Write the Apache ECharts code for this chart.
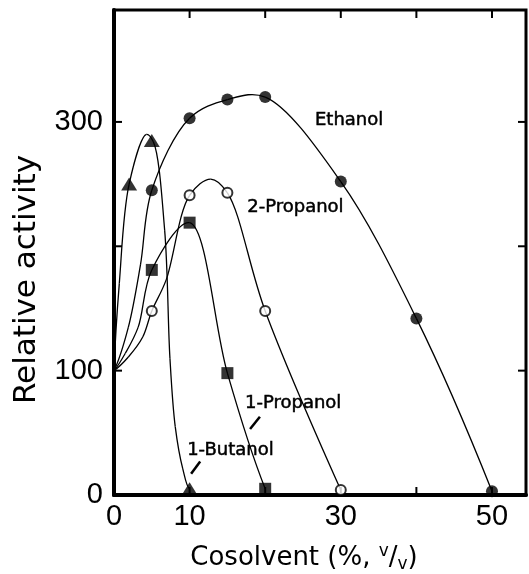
<!DOCTYPE html>
<html>
<head>
<meta charset="utf-8">
<title>Relative activity vs cosolvent</title>
<style>
html, body { margin: 0; padding: 0; background: #fff; }
#chart { width: 529px; height: 574px; }
</style>
</head>
<body>
<div id="chart"></div>
<script src="https://cdn.jsdelivr.net/npm/echarts@6/dist/echarts.min.js"></script>
<script>
// measured points (markers)
var ethanolX = [5, 10, 15, 20, 30, 40, 50];
var ethanolY = [245, 303, 318, 320, 252, 142, 3];
var propanol2X = [5, 10, 15, 20, 30];
var propanol2Y = [148, 241, 243, 148, 4];
var propanol1X = [5, 10, 15, 20];
var propanol1Y = [181, 219, 98, 5];
var butanolX = [2, 5, 10];
var butanolY = [250, 285, 5];

// hand drawn curves (all start at 100 for 0 %)
var ethanolCurve = [[0, 100], [1.9, 135], [3.5, 185], [5, 245], [10, 303], [15, 318], [20, 320], [30, 252], [40, 142], [50, 3]];
var propanol2Curve = [[0, 100], [1.9, 111], [3.8, 127], [5, 148], [6.9, 173], [10, 241], [12.8, 254], [15, 243], [20, 148], [30, 4]];
var propanol1Curve = [[0, 100], [1.5, 114], [3.2, 135], [5, 181], [10, 219], [15, 98], [20, 5]];
var butanolCurve = [[0, 100], [0.7, 170], [2, 250], [4.3, 290], [5.2, 284], [6.7, 213], [7.4, 110], [8.1, 55], [9.1, 21], [10, 5]];

// tick marks and the tick labels that are printed
var xTicks = [10, 20, 30, 40, 50];
var yTicks = [100, 200, 300];
var xTickLabels = [0, 10, 30, 50];
var yTickLabels = [0, 100, 300];

function pairs(xs, ys) {
    return xs.map(function (x, i) { return [x, ys[i]]; });
}

// centripetal catmull-rom segment i of a pixel polyline, as a cubic bezier
function segment(P, i) {
    var n = P.length;
    function at(k) {
        if (k < 0) return [3 * P[0][0] - 3 * P[1][0] + P[2][0], 3 * P[0][1] - 3 * P[1][1] + P[2][1]];
        if (k > n - 1) return [3 * P[n - 1][0] - 3 * P[n - 2][0] + P[n - 3][0], 3 * P[n - 1][1] - 3 * P[n - 2][1] + P[n - 3][1]];
        return P[k];
    }
    var p0 = at(i - 1), p1 = at(i), p2 = at(i + 1), p3 = at(i + 2);
    function d(a, b) { return Math.pow(Math.hypot(b[0] - a[0], b[1] - a[1]), 0.5); }
    var l01 = d(p0, p1), l12 = d(p1, p2), l23 = d(p2, p3);
    var c1 = p1.slice(), c2 = p2.slice();
    if (l01 > 1e-6) {
        var A = 2 * l01 * l01 + 3 * l01 * l12 + l12 * l12, N = 3 * l01 * (l01 + l12);
        c1 = [(p1[0] * A - p0[0] * l12 * l12 + p2[0] * l01 * l01) / N,
              (p1[1] * A - p0[1] * l12 * l12 + p2[1] * l01 * l01) / N];
    }
    if (l23 > 1e-6) {
        var B = 2 * l23 * l23 + 3 * l23 * l12 + l12 * l12, M = 3 * l23 * (l23 + l12);
        c2 = [(p2[0] * B + p1[0] * l23 * l23 - p3[0] * l12 * l12) / M,
              (p2[1] * B + p1[1] * l23 * l23 - p3[1] * l12 * l12) / M];
    }
    return { x1: p1[0], y1: p1[1], cpx1: c1[0], cpy1: c1[1], cpx2: c2[0], cpy2: c2[1], x2: p2[0], y2: p2[1] };
}

function curve(name, pts) {
    return {
        name: name,
        type: 'custom',
        data: pts,
        encode: { x: 0, y: 1 },
        silent: true,
        clip: false,
        z: 2,
        renderItem: function (params, api) {
            var i = params.dataIndex;
            if (i >= pts.length - 1) return { type: 'group', children: [] };
            var P = pts.map(function (p) { return api.coord(p); });
            return {
                type: 'bezierCurve',
                shape: segment(P, i),
                style: { stroke: '#000', fill: null, lineWidth: 1.3 }
            };
        }
    };
}

// inward ticks on all four sides of the frame
function ticks(values, dir) {
    var len = 8;
    function seg(x1, y1, x2, y2) {
        return { type: 'line', shape: { x1: x1, y1: y1, x2: x2, y2: y2 }, style: { stroke: '#000', lineWidth: 2 } };
    }
    return {
        type: 'custom',
        silent: true,
        clip: false,
        z: 1,
        data: values.map(function (v) { return dir === 'x' ? [v, 0] : [0, v]; }),
        encode: { x: 0, y: 1 },
        renderItem: function (params, api) {
            var cs = params.coordSys;
            var p = api.coord([api.value(0), api.value(1)]);
            if (dir === 'x') {
                return { type: 'group', children: [
                    seg(p[0], cs.y + cs.height, p[0], cs.y + cs.height - len),
                    seg(p[0], cs.y, p[0], cs.y + len)
                ] };
            }
            return { type: 'group', children: [
                seg(cs.x, p[1], cs.x + len, p[1]),
                seg(cs.x + cs.width, p[1], cs.x + cs.width - len, p[1])
            ] };
        }
    };
}

var txt = { color: '#000', fontFamily: 'DejaVu Sans', fontSize: 18 };

function tag(name, coord) {
    return { name: name, coord: coord };
}

function marks(name, pts, symbol, size, open, labels, arrows) {
    var s = {
        name: name,
        type: 'scatter',
        data: pts,
        symbol: symbol,
        symbolSize: size,
        silent: true,
        itemStyle: open ? { color: '#fff', borderColor: '#000', borderWidth: 2 } : { color: '#000' },
        z: 3
    };
    if (labels) {
        s.markPoint = {
            symbol: 'circle',
            symbolSize: 1,
            silent: true,
            itemStyle: { color: 'rgba(0,0,0,0)' },
            label: {
                show: true, position: 'inside', formatter: '{b}',
                color: txt.color, fontFamily: txt.fontFamily, fontSize: txt.fontSize,
                textBorderColor: '#000', textBorderWidth: 0.5
            },
            data: labels
        };
    }
    if (arrows) {
        s.markLine = {
            silent: true,
            symbol: ['none', 'arrow'],
            symbolSize: [0, 10],
            lineStyle: { color: '#000', width: 2.5, type: 'solid' },
            label: { show: false },
            data: arrows
        };
    }
    return s;
}

var chart = echarts.init(document.getElementById('chart'));

var option = {
    animation: false,
    backgroundColor: '#fff',
    grid: {
        left: 114, right: 3, top: 10, bottom: 79,
        show: true, borderColor: '#000', borderWidth: 3,
        outerBoundsMode: 'none'
    },
    xAxis: {
        type: 'value', min: 0, max: 54.5, interval: 10,
        axisLine: { show: true, onZero: false, lineStyle: { color: '#000', width: 4 } },
        axisTick: { show: false },
        axisLabel: {
            margin: 7, color: '#000', fontFamily: 'Liberation Sans', fontSize: 29,
            formatter: function (v) { return xTickLabels.indexOf(v) >= 0 ? String(v) : ''; }
        },
        splitLine: { show: false },
        name: 'Cosolvent (%, {sup|v}/{sub|v})',
        nameLocation: 'middle',
        nameGap: 48,
        nameTextStyle: {
            color: '#000', fontFamily: 'DejaVu Sans', fontSize: 26, lineHeight: 30,
            padding: [0, 32, 0, 0],
            rich: {
                sup: { color: '#000', fontFamily: 'DejaVu Sans', fontSize: 17, verticalAlign: 'top' },
                sub: { color: '#000', fontFamily: 'DejaVu Sans', fontSize: 17, verticalAlign: 'bottom' }
            }
        }
    },
    yAxis: {
        type: 'value', min: 0, max: 390, interval: 100,
        axisLine: { show: true, onZero: false, lineStyle: { color: '#000', width: 4 } },
        axisTick: { show: false },
        axisLabel: {
            margin: 11, color: '#000', fontFamily: 'Liberation Sans', fontSize: 29,
            formatter: function (v) { return yTickLabels.indexOf(v) >= 0 ? String(v) : ''; }
        },
        splitLine: { show: false },
        name: 'Relative activity',
        nameLocation: 'middle',
        nameGap: 72,
        nameTextStyle: {
            color: '#000', fontFamily: 'DejaVu Sans', fontSize: 31,
            padding: [0, 54, 0, 0]
        }
    },
    series: [
        ticks(xTicks, 'x'),
        ticks(yTicks, 'y'),
        curve('Ethanol curve', ethanolCurve),
        curve('2-Propanol curve', propanol2Curve),
        curve('1-Propanol curve', propanol1Curve),
        curve('1-Butanol curve', butanolCurve),
        marks('Ethanol', pairs(ethanolX, ethanolY), 'circle', 12, false, [tag('Ethanol', [31.1, 301])]),
        marks('2-Propanol', pairs(propanol2X, propanol2Y), 'circle', 10, true, [tag('2-Propanol', [24.0, 231])]),
        marks('1-Propanol', pairs(propanol1X, propanol1Y), 'rect', 12, false,
            [tag('1-Propanol', [23.7, 74])], [[{ coord: [19.3, 63] }, { coord: [18.0, 53] }]]),
        marks('1-Butanol', pairs(butanolX, butanolY), 'triangle', [16, 13], false,
            [tag('1-Butanol', [15.4, 36])], [[{ coord: [11.4, 27] }, { coord: [10.2, 17] }]])
    ]
};

chart.setOption(option);
</script>
</body>
</html>
